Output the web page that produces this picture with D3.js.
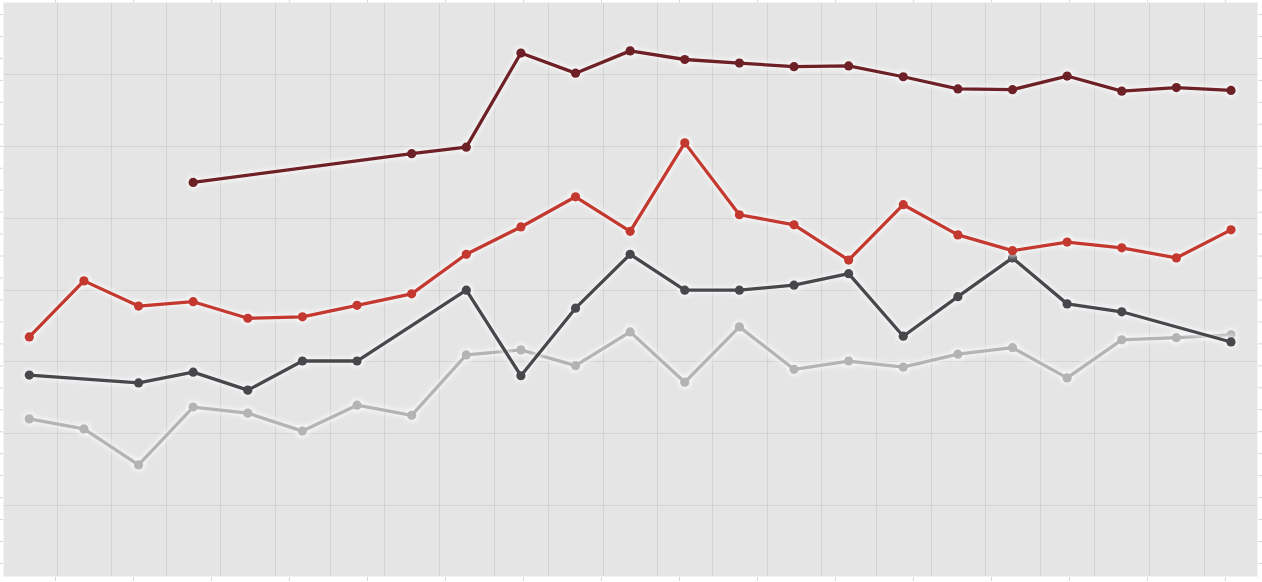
<!DOCTYPE html>
<html>
<head>
<meta charset="utf-8">
<script src="https://cdn.jsdelivr.net/npm/d3@7"></script>
<style>
  body { margin: 0; background: #fff; }
  svg { display: block; }
</style>
</head>
<body>
<div id="chart"></div>
<script>
// one value per week, null where a series has no point
let weeks = d3.range(0, 23);

let maroon = [null, null, null, 54.9, null, null, null, 58.9, 59.8, 72.9, 70.1, 73.2, 72.0, 71.5, 71.0, 71.1, 69.6, 67.9, 67.8, 69.7, 67.6, 68.1, 67.7];
let red    = [33.4, 41.2, 37.7, 38.3, 36.0, 36.2, 37.8, 39.4, 44.9, 48.7, 52.9, 48.1, 60.4, 50.4, 49.0, 44.1, 51.8, 47.6, 45.4, 46.6, 45.8, 44.4, 48.3];
let dark   = [28.1, null, 27.0, 28.5, 26.0, 30.05, 30.05, null, 39.9, 28.0, 37.4, 44.9, 39.9, 39.9, 40.6, 42.2, 33.5, 39.0, 44.4, 38.0, 36.9, null, 32.7];
let light  = [22.0, 20.6, 15.6, 23.65, 22.8, 20.3, 23.9, 22.5, 30.9, 31.6, 29.4, 34.1, 27.1, 34.8, 28.9, 30.05, 29.2, 31.0, 31.9, 27.7, 33.0, 33.3, 33.7];

let yGrid = [10, 20, 30, 40, 50, 60, 70];
let xTickCount = 16, yTickCount = 26;

let series = [
  { name: "light", values: light, color: "#b4b4b4" },
  { name: "dark", values: dark, color: "#47474c" },
  { name: "red", values: red, color: "#c3392f" },
  { name: "maroon", values: maroon, color: "#6d2025" }
];

let width = 1262, height = 582;
let plot = { left: 3, top: 2, right: 1258, bottom: 577 };

let svg = d3.select("#chart")
    .append("svg")
    .attr("width", width)
    .attr("height", height);

let defs = svg.append("defs");
defs.append("filter")
    .attr("id", "glow")
    .attr("x", "-5%").attr("y", "-20%").attr("width", "110%").attr("height", "140%")
  .append("feGaussianBlur")
    .attr("stdDeviation", 2);

let x = d3.scaleLinear().domain([0, 22]).range([29.3, 1231]);
let y = d3.scaleLinear().domain([0, 80]).range([plot.bottom, plot.top]);

// tick marks sit on their own spacing, not on the grid
let xTick = d3.scaleLinear().domain([0, xTickCount - 1]).range([55, 1225]);
let yTick = d3.scaleLinear().domain([0, yTickCount - 1]).range([14, 563]);

svg.append("rect")
    .attr("x", plot.left)
    .attr("y", plot.top)
    .attr("width", plot.right - plot.left)
    .attr("height", plot.bottom - plot.top)
    .attr("fill", "#e5e5e5");

// grid
let grid = svg.append("g").attr("stroke", "#d3d3d3").attr("stroke-width", 1);
grid.selectAll(".vg")
    .data(d3.range(0, 22))
    .enter().append("line")
    .attr("x1", function(d) { return Math.round(x(d + 0.5)) + 0.5; })
    .attr("x2", function(d) { return Math.round(x(d + 0.5)) + 0.5; })
    .attr("y1", plot.top)
    .attr("y2", plot.bottom);
grid.selectAll(".hg")
    .data(yGrid)
    .enter().append("line")
    .attr("x1", plot.left)
    .attr("x2", plot.right)
    .attr("y1", function(d) { return Math.round(y(d)) + 0.5; })
    .attr("y2", function(d) { return Math.round(y(d)) + 0.5; });

// frame edge
svg.append("rect")
    .attr("x", plot.left + 0.5)
    .attr("y", plot.top + 0.5)
    .attr("width", plot.right - plot.left - 1)
    .attr("height", plot.bottom - plot.top - 1)
    .attr("fill", "none")
    .attr("stroke", "#f2f2f2");

// small outside ticks
function styleAxis(g) {
  g.select(".domain").remove();
  g.selectAll(".tick line").attr("stroke", "#d6d6d6");
}
svg.append("g").attr("transform", "translate(0," + plot.top + ")")
    .call(d3.axisTop(xTick).tickValues(d3.range(xTickCount)).tickSize(3).tickFormat(""))
    .call(styleAxis);
svg.append("g").attr("transform", "translate(0," + plot.bottom + ")")
    .call(d3.axisBottom(xTick).tickValues(d3.range(xTickCount)).tickSize(4).tickFormat(""))
    .call(styleAxis);
svg.append("g").attr("transform", "translate(" + plot.left + ",0)")
    .call(d3.axisLeft(yTick).tickValues(d3.range(yTickCount)).tickSize(3).tickFormat(""))
    .call(styleAxis);
svg.append("g").attr("transform", "translate(" + plot.right + ",0)")
    .call(d3.axisRight(yTick).tickValues(d3.range(yTickCount)).tickSize(4).tickFormat(""))
    .call(styleAxis);

let line = d3.line()
    .x(function(d) { return x(d.i); })
    .y(function(d) { return y(d.v); });

series.forEach(function(s) {
  // gaps are bridged: the line just joins the points that exist
  let pts = weeks.map(function(i) { return { i: i, v: s.values[i] }; })
                 .filter(function(d) { return d.v != null; });

  let g = svg.append("g").attr("class", "series " + s.name);

  g.append("path")
      .datum(pts)
      .attr("d", line)
      .attr("fill", "none")
      .attr("stroke", "#ffffff")
      .attr("stroke-opacity", 0.6)
      .attr("stroke-width", 7)
      .attr("stroke-linejoin", "round")
      .attr("filter", "url(#glow)");
  g.selectAll(".halo")
      .data(pts)
      .enter().append("circle")
      .attr("cx", function(d) { return x(d.i); })
      .attr("cy", function(d) { return y(d.v); })
      .attr("r", 7)
      .attr("fill", "#ffffff")
      .attr("fill-opacity", 0.55)
      .attr("filter", "url(#glow)");

  g.append("path")
      .datum(pts)
      .attr("d", line)
      .attr("fill", "none")
      .attr("stroke", s.color)
      .attr("stroke-width", 3.3)
      .attr("stroke-linejoin", "round");

  g.selectAll(".dot")
      .data(pts)
      .enter().append("circle")
      .attr("cx", function(d) { return x(d.i); })
      .attr("cy", function(d) { return y(d.v); })
      .attr("r", 4.6)
      .attr("fill", s.color);
});
</script>
</body>
</html>
